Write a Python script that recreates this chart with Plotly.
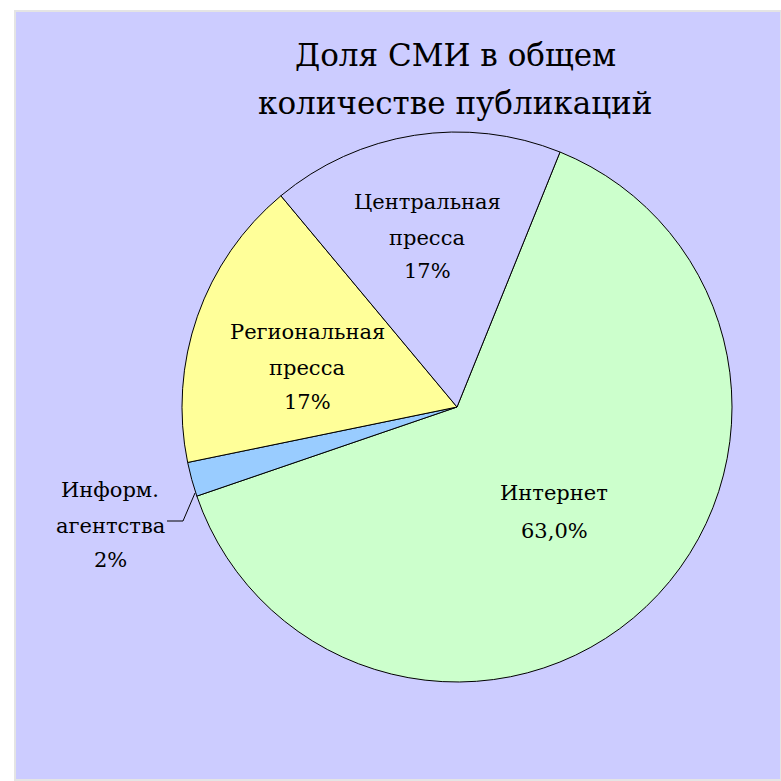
import plotly.graph_objects as go

# Share of media types in the total number of publications
categories = ["Интернет", "Информ. агентства", "Региональная пресса", "Центральная пресса"]
values = [63.0, 2, 17, 17]
value_text = ["63,0%", "2%", "17%", "17%"]
colors = ["#CCFFCC", "#99CCFF", "#FFFF99", "#CCCCFF"]
title_lines = ["Доля СМИ в общем", "количестве публикаций"]

W = H = 781
SERIF = "DejaVu Serif"

fig = go.Figure(
    go.Pie(
        labels=categories,
        values=values,
        sort=False,
        direction="clockwise",
        rotation=22,
        marker=dict(colors=colors, line=dict(color="black", width=1)),
        textinfo="none",
        hoverinfo="label+percent",
        showlegend=False,
        domain=dict(x=[(457 - 275) / W, (457 + 275) / W],
                    y=[1 - (407 + 275) / H, 1 - (407 - 275) / H]),
    )
)

def px(x):
    return x / W

def py(y):
    return 1 - y / H

# lavender panel behind the chart
shapes = [
    dict(type="rect", xref="paper", yref="paper", x0=px(15), x1=1.0, y0=py(780), y1=py(11),
         fillcolor="#CCCCFF", line=dict(color="#E4E4E4", width=2), layer="below"),
    # leader line for the small slice
    dict(type="path", xref="paper", yref="paper",
         path=f"M {px(167)},{py(521)} L {px(183)},{py(521)} L {px(195)},{py(493)}",
         line=dict(color="black", width=1)),
]

annotations = []

def add_line(text, x, y, size):
    annotations.append(dict(
        x=px(x), y=py(y), xref="paper", yref="paper", showarrow=False,
        text=text, xanchor="center", yanchor="middle",
        font=dict(family=SERIF, size=size, color="black"),
    ))

# slice labels: centre x and the y of each text line
label_layout = [
    (554, [493, 531]),
    (110, [490, 526, 560]),
    (307, [332, 368, 402]),
    (427, [202, 238, 271]),
]
for name, txt, (x, ys) in zip(categories, value_text, label_layout):
    words = name.split(" ")
    lines = ([name] if len(words) == 1 else words) + [txt]
    for line, y in zip(lines, ys):
        add_line(line, x, y, 21)

for line, y in zip(title_lines, [55, 103]):
    add_line(line, 455, y, 31)

fig.update_layout(
    width=W, height=H,
    margin=dict(l=0, r=0, t=0, b=0),
    paper_bgcolor="white",
    plot_bgcolor="white",
    shapes=shapes,
    annotations=annotations,
)

fig.write_html("out.html")
